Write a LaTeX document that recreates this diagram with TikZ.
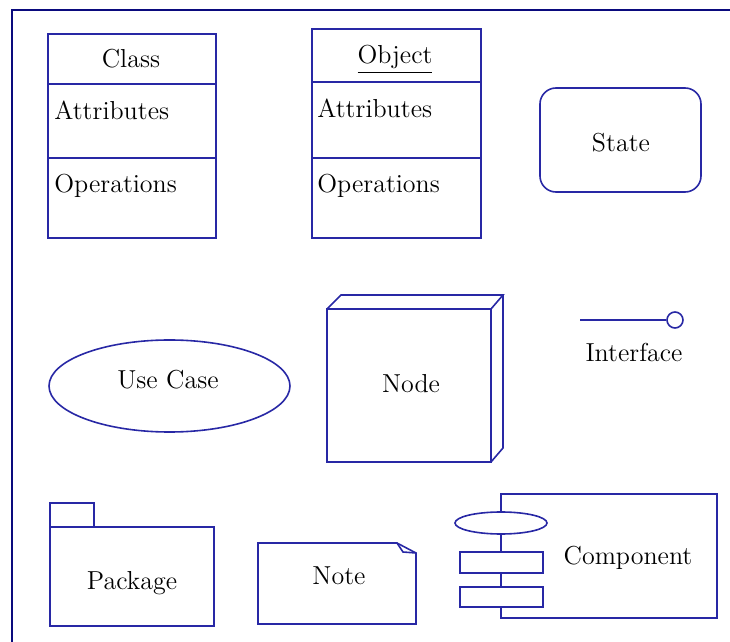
\documentclass[tikz,border=0pt]{standalone}
\usetikzlibrary{shapes,positioning}
\definecolor{umlblue}{RGB}{40,40,165}
\definecolor{frameblue}{RGB}{10,10,125}
\tikzset{
  umlline/.style={draw=umlblue, line width=0.8pt},
  lbl/.style={inner sep=0pt, anchor=base, font=\fontsize{13}{15}\selectfont},
}

\begin{document}
\begin{tikzpicture}[x=0.5pt,y=-0.5pt]
\useasboundingbox (0,0) rectangle (730,642);
% frame
\draw[frameblue, line width=1pt] (730,10) -- (12,10) -- (12,642);
% class
\draw[umlline] (48,34) rectangle (216,238);
\draw[umlline] (48,84) -- (216,84) (48,158) -- (216,158);
\node[lbl] (cls) at (131,68) {Class};
\node[lbl, anchor=base west] (clsattr) at (54,120) {Attributes};
\node[lbl, anchor=base west] (clsops) at (54,193) {Operations};
% object
\draw[umlline] (312,29) rectangle (481,238);
\draw[umlline] (312,82) -- (481,82) (312,158) -- (481,158);
\node[lbl] (obj) at (395,64) {\underline{Object}};
\node[lbl, anchor=base west] (objattr) at (317,118) {Attributes};
\node[lbl, anchor=base west] (objops) at (317,193) {Operations};
% state
\draw[umlline, rounded corners=8pt] (540,88) rectangle (701,192);
\node[lbl] (state) at (621,152) {State};
% use case
\draw[umlline] (169.5,386) ellipse [x radius=60.25pt, y radius=23pt];
\node[lbl] (usecase) at (168,389) {Use Case};
% node
\draw[umlline] (327,309) rectangle (491,462);
\draw[umlline] (327,309) -- (341,295) -- (503,295) -- (491,309);
\draw[umlline] (503,295) -- (503,448) -- (491,462);
\node[lbl] (nd) at (411,393) {Node};
% interface
\node[circle, umlline, minimum size=8pt, inner sep=0pt] (iface) at (675,320) {};
\coordinate (ifend) at (580,320);
\draw[umlline] (ifend) -- (iface);
\node[lbl] (ifacelbl) at (634,362) {Interface};
% package
\draw[umlline] (50,503) rectangle (94,527);
\draw[umlline] (50,527) rectangle (214,626);
\node[lbl] (pkg) at (132,589) {Package};
% note
\draw[umlline] (258,543) -- (397,543) -- (416,553) -- (416,624) -- (258,624) -- cycle;
\draw[umlline] (397,543) -- (403,552) -- (416,553);
\node[lbl] (note) at (339,585) {Note};
% component
\draw[umlline] (501,494) rectangle (717,618);
\draw[umlline, fill=white] (501,523) ellipse [x radius=23pt, y radius=5.5pt];
\draw[umlline, fill=white] (460,552) rectangle (543,573);
\draw[umlline, fill=white] (460,587) rectangle (543,607);
\node[lbl] (comp) at (628,565) {Component};
\end{tikzpicture}
\end{document}
